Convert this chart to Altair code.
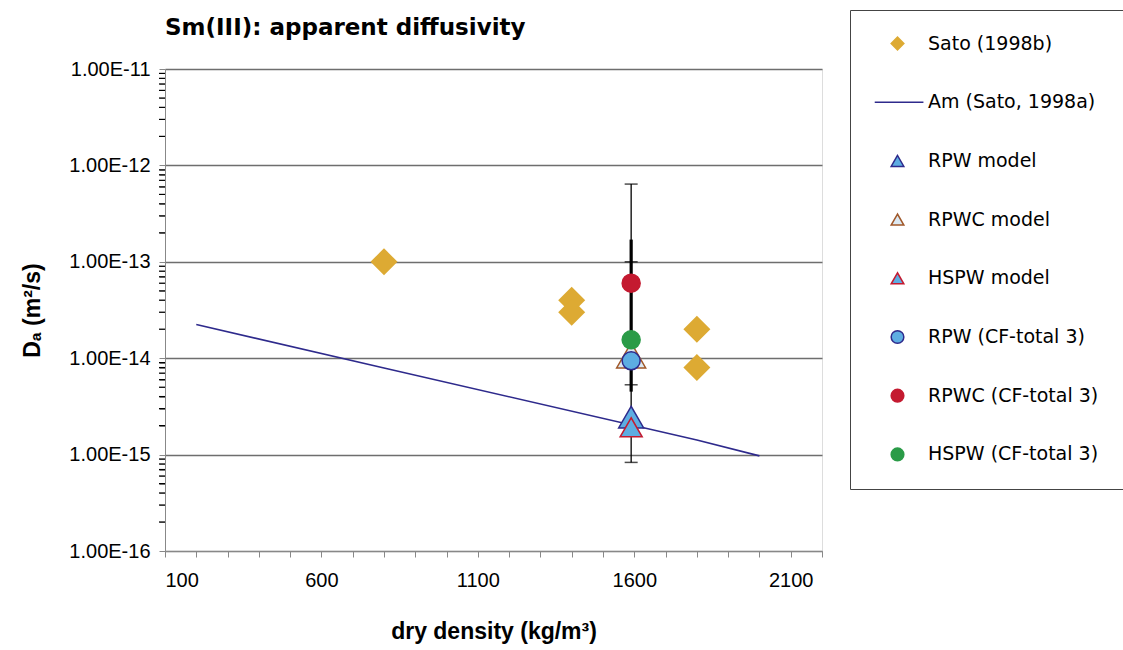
import altair as alt
import pandas as pd

# ---------------- data ----------------
series_names = [
    "Sato (1998b)", "Am (Sato, 1998a)", "RPW model", "RPWC model",
    "HSPW model", "RPW (CF-total 3)", "RPWC (CF-total 3)", "HSPW (CF-total 3)",
]

sato_density = [800, 1400, 1400, 1800, 1800]
sato_da = [1.0e-13, 4.0e-14, 3.0e-14, 2.0e-14, 8.0e-15]

am_density = [200, 800, 1800, 2000]
am_da = [2.24e-14, 7.9e-15, 1.42e-15, 9.7e-16]

model_density = 1590
rpw_model_da = [2.45e-15]
rpwc_model_da = [1.07e-14]
hspw_model_da = [1.92e-15]

rpw_cf_da = [9.4e-15]
rpwc_cf_da = [6.0e-14]
hspw_cf_da = [1.55e-14]

err_thin_lo = [5.3e-15, 8.3e-16]
err_thin_hi = [6.4e-13, 1.0e-13]
err_thick_lo = [4.5e-15]
err_thick_hi = [1.7e-13]

x_ticks = list(range(100, 2201, 100))
y_major = [1e-16, 1e-15, 1e-14, 1e-13, 1e-12, 1e-11]
y_ticks = [m * 10.0 ** e for e in range(-16, -11) for m in range(1, 10)] + [1e-11]
y_minor = [m * 10.0 ** e for e in range(-16, -11) for m in range(2, 10)]

# ---------------- styles ----------------
gold = "#DDAA33"
navy = "#2E2A8C"
lblue = "#5DADE2"
pale = "#DCE9F3"
brown = "#A0582A"
red = "#C41A30"
green = "#2A9B47"

fill_range = [gold, navy, lblue, pale, lblue, lblue, red, green]
stroke_range = [gold, navy, navy, brown, red, navy, red, green]
shape_range = ["diamond", "M-3.6,0L4.1,0", "triangle-up", "triangle-up",
               "triangle-up", "circle", "circle", "circle"]

FONT = "DejaVu Sans"

legend = alt.Legend(
    title=None, orient="none", legendX=685, legendY=-59,
    padding=24, rowPadding=38.7, symbolSize=160, symbolStrokeWidth=1.5,
    symbolOffset=14, labelOffset=21, labelFont=FONT, labelFontSize=19,
    labelColor="black", strokeColor="#444", fillColor="white",
    labelLimit=400,
)

fill_enc = alt.Fill("series:N", scale=alt.Scale(domain=series_names, range=fill_range), legend=legend)
stroke_enc = alt.Stroke("series:N", scale=alt.Scale(domain=series_names, range=stroke_range), legend=legend)
shape_enc = alt.Shape("series:N", scale=alt.Scale(domain=series_names, range=shape_range), legend=legend)

x_scale = alt.Scale(domain=[100, 2200], nice=False, zero=False)
y_scale = alt.Scale(type="log", domain=[1e-16, 1e-11], nice=False)

x_axis = alt.Axis(
    values=x_ticks, format="d", labelExpr="datum.value % 500 == 100 ? datum.label : ''",
    title="dry density (kg/m³)", grid=False, tickSize=6, labelOverlap=False,
    labelPadding=13, titlePadding=30, labelFontSize=20, titleFontSize=23,
)
y_axis = alt.Axis(
    values=y_ticks, title="Dₐ (m²/s)", grid=False, tickSize=6, labelPadding=9,
    labelExpr="indexof(format(datum.value, '.2e'), '1.00e') == 0 ? "
              "replace(format(datum.value, '.2e'), 'e', 'E') : ''",
    labelOverlap=False, titlePadding=24, labelFontSize=20, titleFontSize=23,
)
y_grid_axis = alt.Axis(
    values=y_major, labels=False, ticks=False, domain=False, title=None,
    grid=True, gridColor="#6e6e6e", gridWidth=1.5, orient="left",
)


def frame(series, da):
    return pd.DataFrame({"density": [model_density] * len(da), "da": da, "series": series})


sato_df = pd.DataFrame({"density": sato_density, "da": sato_da, "series": series_names[0]})
am_df = pd.DataFrame({"density": am_density, "da": am_da, "series": series_names[1]})
thin_df = pd.DataFrame({"density": [model_density] * 2, "lo": err_thin_lo, "hi": err_thin_hi})
thick_df = pd.DataFrame({"density": [model_density], "lo": err_thick_lo, "hi": err_thick_hi})
caps_df = pd.DataFrame({"density": [model_density] * 4, "v": err_thin_lo + err_thin_hi})
minor_df = pd.DataFrame({"v": y_minor})


def points(df, size, sw=1.5):
    return alt.Chart(df).mark_point(filled=True, size=size, opacity=1, strokeWidth=sw).encode(
        x=alt.X("density:Q", scale=x_scale, axis=None),
        y=alt.Y("da:Q", scale=y_scale, axis=None),
        fill=fill_enc, stroke=stroke_enc, shape=shape_enc,
    )


sato = alt.Chart(sato_df).mark_point(filled=True, size=729, opacity=1, strokeWidth=0).encode(
    x=alt.X("density:Q", scale=x_scale, axis=x_axis),
    y=alt.Y("da:Q", scale=y_scale, axis=y_axis),
    fill=fill_enc, stroke=stroke_enc, shape=shape_enc,
)

am = alt.Chart(am_df).mark_line(strokeWidth=1.6).encode(
    x=alt.X("density:Q", scale=x_scale, axis=None),
    y=alt.Y("da:Q", scale=y_scale, axis=y_grid_axis),
    stroke=stroke_enc,
)

# minor log ticks on the outside of the y axis
minor_ticks = alt.Chart(minor_df).mark_tick(
    color="black", orient="horizontal", size=6, thickness=1.2, opacity=1
).encode(
    x=alt.value(-3),
    y=alt.Y("v:Q", scale=y_scale, axis=None),
)

thin = alt.Chart(thin_df).mark_rule(color="black", strokeWidth=1.3).encode(
    x=alt.X("density:Q", scale=x_scale, axis=None),
    y=alt.Y("lo:Q", scale=y_scale, axis=None),
    y2="hi:Q",
)
thick = alt.Chart(thick_df).mark_rule(color="black", strokeWidth=3.2).encode(
    x=alt.X("density:Q", scale=x_scale, axis=None),
    y=alt.Y("lo:Q", scale=y_scale, axis=None),
    y2="hi:Q",
)
caps = alt.Chart(caps_df).mark_tick(color="black", orient="horizontal", size=13, thickness=1.5).encode(
    x=alt.X("density:Q", scale=x_scale, axis=None),
    y=alt.Y("v:Q", scale=y_scale, axis=None),
)

layers = [
    sato, am, minor_ticks, thin, thick, caps,
    points(frame(series_names[2], rpw_model_da), 625),
    points(frame(series_names[3], rpwc_model_da), 841),
    points(frame(series_names[4], hspw_model_da), 484),
    points(frame(series_names[5], rpw_cf_da), 324),
    points(frame(series_names[6], rpwc_cf_da), 324),
    points(frame(series_names[7], hspw_cf_da), 324),
]

chart = alt.layer(*layers).resolve_axis(x="independent", y="independent").properties(
    width=657, height=482,
    padding={"left": 165, "top": 69, "right": 301, "bottom": 99},
    autosize=alt.AutoSizeParams(type="none"),
    title=alt.TitleParams(
        "Sm(III): apparent diffusivity", anchor="start", frame="group",
        font=FONT, fontSize=23, fontWeight="bold", color="black",
        offset=0, dy=30,
    ),
).configure_view(stroke="black", strokeWidth=1.5).configure_axis(
    labelFont=FONT, titleFont=FONT, labelColor="black", titleColor="black",
    titleFontWeight="bold", domainColor="black", tickColor="black",
    domainWidth=1.5, tickWidth=1.3,
).configure(background="white")

chart.save("out.html", embed_options={"renderer": "svg", "actions": False})
